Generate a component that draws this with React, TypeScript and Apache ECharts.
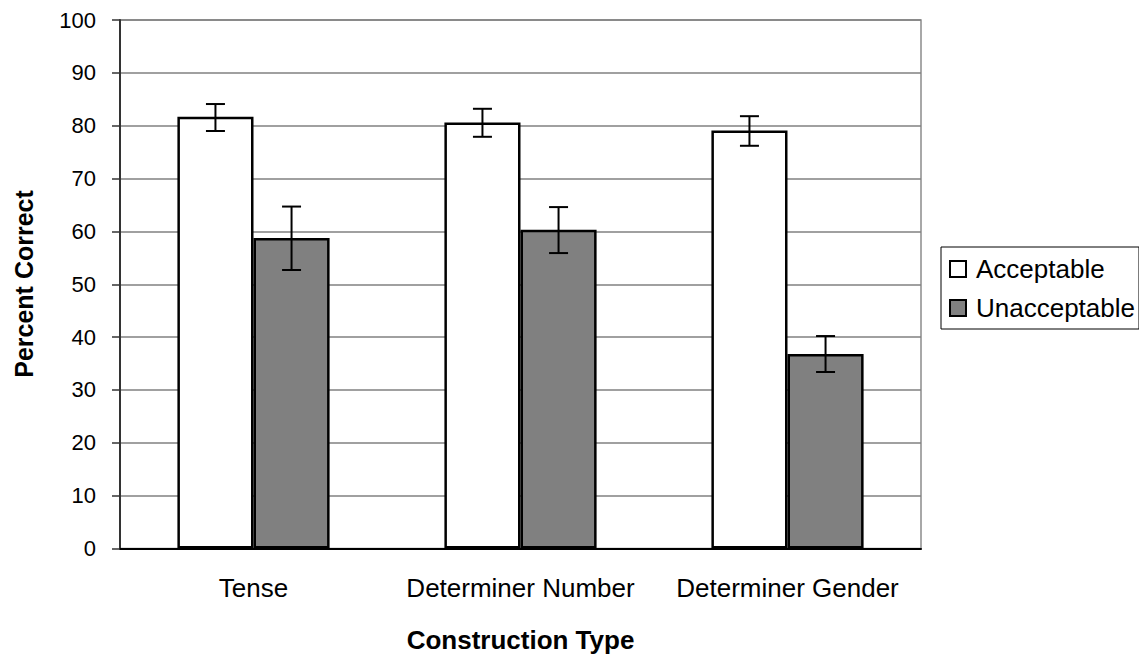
import React, { useEffect, useRef } from "react";
import * as echarts from "echarts";

const categories = ["Tense", "Determiner Number", "Determiner Gender"];
const seriesNames = ["Acceptable", "Unacceptable"];
const acceptable = [81.7, 80.6, 79.1];
const acceptableLow = [79.0, 77.9, 76.2];
const acceptableHigh = [84.1, 83.2, 81.8];
const unacceptable = [58.75, 60.3, 36.8];
const unacceptableLow = [52.7, 55.9, 33.4];
const unacceptableHigh = [64.7, 64.6, 40.2];
const yTicks = [0, 10, 20, 30, 40, 50, 60, 70, 80, 90, 100];

const FONT = "'Liberation Sans', Arial, sans-serif";
const CAT_GAP = 0.43;

function errorSeries(name: string, lows: number[], highs: number[], side: number) {
  return {
    type: "custom",
    name: name + " error",
    silent: true,
    z: 10,
    data: categories.map((_, i) => [i, lows[i], highs[i]]),
    renderItem: (params: any, api: any) => {
      const idx = api.value(0);
      const lo = api.coord([idx, api.value(1)]);
      const hi = api.coord([idx, api.value(2)]);
      const band = api.size([1, 0])[0];
      const barW = (band * (1 - CAT_GAP)) / 2;
      const x = lo[0] + side * barW / 2;
      const cap = 9.5;
      const style = { stroke: "#000", lineWidth: 2 };
      return {
        type: "group",
        children: [
          { type: "line", shape: { x1: x, y1: lo[1], x2: x, y2: hi[1] }, style },
          { type: "line", shape: { x1: x - cap, y1: lo[1], x2: x + cap, y2: lo[1] }, style },
          { type: "line", shape: { x1: x - cap, y1: hi[1], x2: x + cap, y2: hi[1] }, style },
        ],
      };
    },
  };
}

export default function App() {
  const ref = useRef<HTMLDivElement>(null);
  useEffect(() => {
    if (!ref.current) return;
    const chart = echarts.init(ref.current, null, { renderer: "svg" });
    chart.setOption({
      animation: false,
      backgroundColor: "#fff",
      textStyle: { fontFamily: FONT },
      grid: {
        left: 120,
        right: 218,
        top: 20,
        bottom: 114.5,
        show: true,
        borderColor: "#8c8c8c",
        borderWidth: 1.5,
        backgroundColor: "transparent",
      },
      legend: {
        orient: "vertical",
        left: 941,
        top: 247,
        padding: [9, 4, 8, 8],
        itemGap: 13,
        itemWidth: 16,
        itemHeight: 16,
        borderColor: "#000",
        borderWidth: 1,
        icon: "rect",
        textStyle: { fontFamily: FONT, fontSize: 26, color: "#000", padding: [0, 0, 0, 5] },
        data: seriesNames,
      },
      xAxis: {
        type: "category",
        data: categories,
        axisLine: { lineStyle: { color: "#000", width: 2 } },
        axisTick: { show: false },
        axisLabel: {
          fontFamily: FONT,
          fontSize: 26,
          color: "#000",
          margin: 26,
          interval: 0,
          hideOverlap: false,
        },
        name: "Construction Type",
        nameLocation: "middle",
        nameGap: 78,
        nameTextStyle: { fontFamily: FONT, fontSize: 26, fontWeight: "bold", color: "#000" },
      },
      yAxis: {
        type: "value",
        min: 0,
        max: 100,
        interval: 10,
        axisLine: { show: true, lineStyle: { color: "#333", width: 2 } },
        axisTick: { show: true, length: 8, lineStyle: { color: "#333", width: 1.5 } },
        axisLabel: {
          fontFamily: FONT,
          fontSize: 22,
          color: "#000",
          margin: 24,
          formatter: (v: number) => (yTicks.includes(v) ? String(v) : ""),
        },
        splitLine: { lineStyle: { color: "#808080", width: 1.5 } },
      },
      graphic: [
        {
          type: "text",
          x: 24,
          y: 284,
          rotation: Math.PI / 2,
          style: {
            text: "Percent Correct",
            fontFamily: FONT,
            fontSize: 25,
            fontWeight: "bold",
            fill: "#000",
            align: "center",
            verticalAlign: "middle",
          },
        },
      ],
      series: [
        {
          type: "bar",
          name: seriesNames[0],
          data: acceptable,
          barGap: "0%",
          barCategoryGap: CAT_GAP * 100 + "%",
          itemStyle: { color: "#fff", borderColor: "#000", borderWidth: 2.5 },
        },
        {
          type: "bar",
          name: seriesNames[1],
          data: unacceptable,
          barGap: "0%",
          barCategoryGap: CAT_GAP * 100 + "%",
          itemStyle: { color: "#808080", borderColor: "#000", borderWidth: 2.5 },
        },
        errorSeries(seriesNames[0], acceptableLow, acceptableHigh, -1),
        errorSeries(seriesNames[1], unacceptableLow, unacceptableHigh, 1),
      ],
    });
    return () => chart.dispose();
  }, []);
  return (
    <div
      ref={ref}
      style={{ position: "fixed", left: 0, top: 0, width: 1139, height: 663 }}
    />
  );
}
